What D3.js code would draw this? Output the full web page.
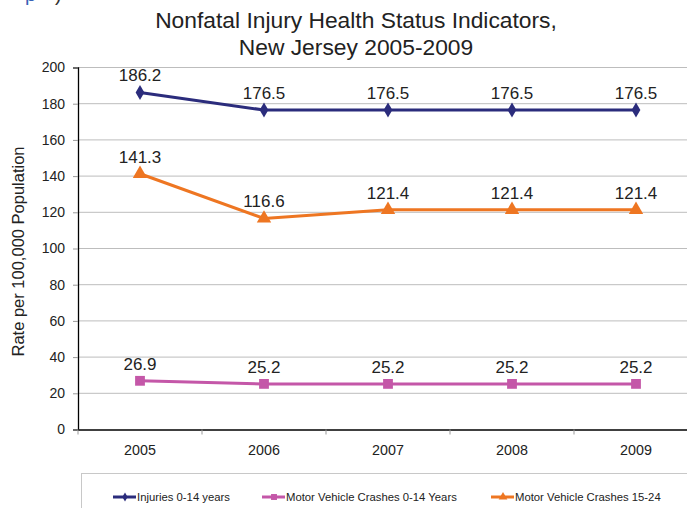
<!DOCTYPE html>
<html>
<head>
<meta charset="utf-8">
<script src="https://cdn.jsdelivr.net/npm/d3@7"></script>
<style>
  body { margin: 0; background: #fff; }
  svg { display: block; font-family: "Liberation Sans", Arial, sans-serif; }
</style>
</head>
<body>
<div id="chart"></div>
<script>
const years = ["2005", "2006", "2007", "2008", "2009"]
const seriesNames = ["Injuries 0-14 years", "Motor Vehicle Crashes 0-14 Years", "Motor Vehicle Crashes 15-24"]
const injuries = [186.2, 176.5, 176.5, 176.5, 176.5]
const mvc014 = [26.9, 25.2, 25.2, 25.2, 25.2]
const mvc1524 = [141.3, 116.6, 121.4, 121.4, 121.4]
const yTicks = [0, 20, 40, 60, 80, 100, 120, 140, 160, 180, 200]
const colors = ["#2b2c7c", "#c457a8", "#ee7622"]

const width = 687, height = 508
const margin = {left: 78, top: 67.5, bottom: 429.5}

const svg = d3.select('#chart')
    .append('svg')
    .attr('width', width)
    .attr('height', height)

// heading fragment cut off at the top of the page
svg.append("text")
    .attr("x", 25)
    .attr("y", 1)
    .attr("font-size", 20)
    .attr("fill", "#3a62b5")
    .text("p")
svg.append("text")
    .attr("x", 55)
    .attr("y", 1)
    .attr("font-size", 20)
    .attr("fill", "#333")
    .text(")")

svg.append("text")
    .attr("text-anchor", "middle")
    .attr("font-size", 22.8)
    .attr("fill", "#222")
    .selectAll("tspan")
    .data(["Nonfatal Injury Health Status Indicators,", "New Jersey 2005-2009"])
    .join("tspan")
    .attr("x", 356)
    .attr("y", (d, i) => 28 + i * 27)
    .text(d => d)

const x = d3.scaleBand(years, [margin.left, margin.left + 620])
const y = d3.scaleLinear([0, 200], [margin.bottom, margin.top])

// gridlines
svg.append("g")
    .selectAll("line")
    .data(yTicks.filter(d => d > 0))
    .join("line")
    .attr("x1", margin.left)
    .attr("x2", width)
    .attr("y1", d => y(d))
    .attr("y2", d => y(d))
    .attr("stroke", "#bdbdbd")
    .attr("stroke-width", 1)

const yAxis = svg.append("g")
    .attr("transform", `translate(${margin.left},0)`)
    .call(d3.axisLeft(y).tickValues(yTicks).tickSize(5).tickPadding(8))
yAxis.select(".domain").attr("stroke", "#000").attr("stroke-width", 1.3)
yAxis.selectAll(".tick line").attr("stroke", "#999")
yAxis.selectAll("text").attr("font-size", 14).attr("fill", "#222").attr("font-family", "Liberation Sans, Arial, sans-serif")

const xAxis = svg.append("g")
    .attr("transform", `translate(0,${margin.bottom})`)
    .call(d3.axisBottom(x).tickSize(0).tickPadding(15))
xAxis.select(".domain").attr("stroke", "#000").attr("stroke-width", 1.3)
xAxis.selectAll("text").attr("font-size", 14.3).attr("fill", "#222").attr("font-family", "Liberation Sans, Arial, sans-serif")
svg.append("g")
    .selectAll("line")
    .data(years)
    .join("line")
    .attr("x1", d => x(d))
    .attr("x2", d => x(d))
    .attr("y1", margin.bottom)
    .attr("y2", margin.bottom + 5)
    .attr("stroke", "#999")

svg.append("text")
    .attr("transform", `translate(24,${(margin.top + margin.bottom) / 2 + 3}) rotate(-90)`)
    .attr("text-anchor", "middle")
    .attr("font-size", 16.5)
    .attr("fill", "#222")
    .text("Rate per 100,000 Population")

const series = [injuries, mvc014, mvc1524]
const cx = d => x(d) + x.bandwidth() / 2
const line = d3.line()
    .x((d, i) => cx(years[i]))
    .y(d => y(d))

const marker = (g, k, size) => {
    if (k === 0) g.attr("d", d3.symbol(d3.symbolDiamond, size * 1.1)())
    else if (k === 1) g.attr("d", d3.symbol(d3.symbolSquare, size * 1.6)())
    else g.attr("d", d3.symbol(d3.symbolTriangle, size * 1.5)())
}

series.forEach((vals, k) => {
    svg.append("path")
        .datum(vals)
        .attr("fill", "none")
        .attr("stroke", colors[k])
        .attr("stroke-width", 3)
        .attr("d", line)

    svg.append("g")
        .selectAll("path")
        .data(vals)
        .join("path")
        .attr("transform", (d, i) => `translate(${cx(years[i])},${y(d)})`)
        .attr("fill", colors[k])
        .call(g => marker(g, k, 60))

    svg.append("g")
        .selectAll("text")
        .data(vals)
        .join("text")
        .attr("x", (d, i) => cx(years[i]))
        .attr("y", d => y(d) - 11)
        .attr("text-anchor", "middle")
        .attr("font-size", 17)
        .attr("fill", "#222")
        .text(d => d3.format(".1f")(d))
})

// legend box
svg.append("rect")
    .attr("x", 81.5)
    .attr("y", 473.5)
    .attr("width", 700)
    .attr("height", 60)
    .attr("fill", "none")
    .attr("stroke", "#c8c8c8")

const legend = svg.append("g")
    .selectAll("g")
    .data(seriesNames)
    .join("g")
    .attr("transform", (d, i) => `translate(${[136, 285, 514][i]},497)`)

legend.append("line")
    .attr("x1", -23)
    .attr("x2", 0)
    .attr("stroke", (d, i) => colors[i])
    .attr("stroke-width", 3)
legend.append("path")
    .attr("transform", "translate(-11,0)")
    .attr("fill", (d, i) => colors[i])
    .each(function(d, i) { marker(d3.select(this), i, 22) })
legend.append("text")
    .attr("x", 1)
    .attr("dy", "0.35em")
    .attr("font-size", 11.3)
    .attr("fill", "#222")
    .text(d => d)
</script>
</body>
</html>
